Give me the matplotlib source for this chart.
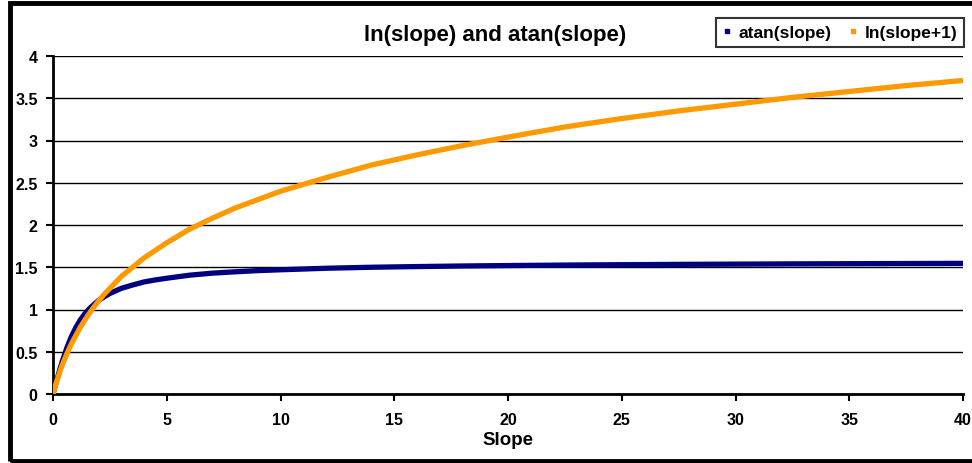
"""Recreate the ln(slope) / atan(slope) comparison chart."""

import matplotlib

matplotlib.use('Agg')
import matplotlib.pyplot as plt
from matplotlib.patches import Rectangle

# values
slope = [0, 0.1, 0.2, 0.3, 0.4, 0.5, 0.6, 0.8, 1.0, 1.2, 1.4, 1.6, 1.8, 2.0, 2.25,
         2.5, 2.75, 3, 3.5, 4, 4.5, 5, 6, 7, 8, 9, 10, 12, 14, 16, 18, 20, 22.5,
         25, 27.5, 30, 32.5, 35, 37.5, 40]
atan_vals = [0, 0.10, 0.197, 0.29, 0.38, 0.46, 0.54, 0.675, 0.785, 0.876, 0.95,
             1.01, 1.06, 1.107, 1.15, 1.19, 1.22, 1.25, 1.29, 1.326, 1.35, 1.37,
             1.406, 1.43, 1.446, 1.46, 1.47, 1.488, 1.50, 1.508, 1.515, 1.52,
             1.526, 1.53, 1.534, 1.537, 1.54, 1.542, 1.544, 1.546]
ln_vals = [0, 0.095, 0.18, 0.26, 0.34, 0.405, 0.47, 0.59, 0.69, 0.79, 0.875,
           0.955, 1.03, 1.10, 1.18, 1.25, 1.32, 1.39, 1.50, 1.61, 1.70, 1.79,
           1.95, 2.08, 2.20, 2.30, 2.40, 2.56, 2.71, 2.83, 2.94, 3.04, 3.16,
           3.26, 3.35, 3.43, 3.51, 3.58, 3.65, 3.71]

x_ticks = [0, 5, 10, 15, 20, 25, 30, 35, 40]
y_ticks = [0, 0.5, 1, 1.5, 2, 2.5, 3, 3.5, 4]
y_labels = ['0', '0.5', '1', '1.5', '2', '2.5', '3', '3.5', '4']

plt.rcParams['font.family'] = ['Liberation Sans', 'DejaVu Sans']

fig = plt.figure(figsize=(9.72, 4.64), dpi=100)
ax = fig.add_axes([53 / 972, 1 - 395 / 464, 910 / 972, 338 / 464])

# outer chart frame (right side runs off the image)
fig.patches.append(Rectangle((10 / 972, 2 / 464), 1.0, 458 / 464,
                             transform=fig.transFigure, fill=False,
                             edgecolor='black', linewidth=3.5))

ax.plot(slope, atan_vals, color='#000080', linewidth=3.8,
        solid_capstyle='butt', zorder=3)
ax.plot(slope, ln_vals, color='#FF9900', linewidth=3.8,
        solid_capstyle='butt', zorder=4)

ax.set_xlim(0, 40)
ax.set_ylim(0, 4)
ax.set_xticks(x_ticks)
ax.set_yticks(y_ticks)
ax.set_yticklabels(y_labels)
for lab in ax.get_xticklabels() + ax.get_yticklabels():
    lab.set_fontweight('bold')
    lab.set_fontsize(11.5)
ax.tick_params(direction='out', length=5, width=1.5, color='black', pad=8)
ax.tick_params(axis='y', pad=6)

ax.yaxis.grid(True, color='black', linewidth=1)
ax.set_axisbelow(True)
for side in ('top', 'right'):
    ax.spines[side].set_visible(False)
for side in ('left', 'bottom'):
    ax.spines[side].set_linewidth(2)

ax.set_xlabel('Slope', fontsize=13.5, fontweight='bold', labelpad=3)

fig.text(495 / 972, 1 - 35 / 464, 'ln(slope) and atan(slope)', fontsize=16,
         fontweight='bold', ha='center', va='center')

handles = [
    plt.Line2D([], [], color='#000080', marker='s', markersize=2.5, linestyle='none'),
    plt.Line2D([], [], color='#FF9900', marker='s', markersize=3.5, linestyle='none'),
]
leg = fig.legend(handles, ['atan(slope)', 'ln(slope+1)'], ncol=2,
                 loc='center', bbox_to_anchor=(840 / 972, 1 - 33.5 / 464),
                 frameon=True, fancybox=False, fontsize=12.5,
                 handlelength=0.5, handletextpad=0.4, columnspacing=1.0,
                 borderpad=0.4)
leg.get_frame().set_edgecolor('black')
leg.get_frame().set_linewidth(1.5)
for t in leg.get_texts():
    t.set_fontweight('bold')

fig.savefig('out.png', dpi=100)
